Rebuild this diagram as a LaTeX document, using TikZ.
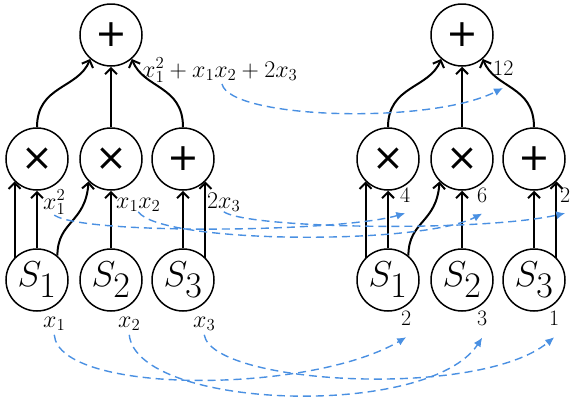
\RequirePackage{fix-cm}
\documentclass[tikz,border=0pt]{standalone}
\usepackage{fontspec}
\newfontfamily\symfont{DejaVu Sans}
\usetikzlibrary{arrows.meta}
\definecolor{flowblue}{RGB}{74,144,226}
\tikzset{
  opnode/.style={circle,draw,line width=1.5pt,minimum size=62pt,inner sep=0pt,
    font=\symfont\fontsize{38}{38}\selectfont},
  varnode/.style={circle,draw,line width=1.5pt,minimum size=62pt,inner sep=0pt,
    font=\fontsize{36}{36}\selectfont},
  edgearrow/.style={line width=2pt,-{Straight Barb[length=6pt,width=12pt]}},
  exprlabel/.style={inner sep=0pt,anchor=base west,font=\fontsize{24}{24}\selectfont},
  vallabel/.style={inner sep=0pt,anchor=base west,font=\fontsize{22}{22}\selectfont},
  flow/.style={draw=flowblue,line width=1.4pt,dash pattern=on 8pt off 5pt,
    -{Latex[length=9pt,width=8pt]}},
}
\begin{document}
\begin{tikzpicture}[x=1pt,y=-1pt]
\useasboundingbox (0,0) rectangle (581,402);
% ---------- left tree ----------
\node[opnode] (lt) at (111,35) {+};
\node[opnode] (la) at (37,159) {×};
\node[opnode] (lb) at (111,159) {×};
\node[opnode] (lc) at (183,159) {+};
\node[varnode] (ls1) at (37,280) {$S_{\textstyle 1}$};
\node[varnode] (ls2) at (111,280) {$S_{\textstyle 2}$};
\node[varnode] (ls3) at (183,280) {$S_{\textstyle 3}$};
\draw[edgearrow] (la.north) .. controls +(0,-42) and +(-12,30) .. (lt.229);
\draw[edgearrow] (lb.north) -- (lt.south);
\draw[edgearrow] (lc.north) .. controls +(0,-42) and +(12,30) .. (lt.311);
\draw[edgearrow] (ls1.135) -- (la.225);
\draw[edgearrow] (ls1.north) -- (la.south);
\draw[edgearrow] (ls1.50) .. controls +(0,-35) and +(-3,42) .. (lb.225);
\draw[edgearrow] (ls2.north) -- (lb.south);
\draw[edgearrow] (ls3.north) -- (lc.south);
\draw[edgearrow] (ls3.45) -- (lc.315);
% ---------- right tree ----------
\node[opnode] (rt) at (462,35) {+};
\node[opnode] (ra) at (388,159) {×};
\node[opnode] (rb) at (462,159) {×};
\node[opnode] (rc) at (534,159) {+};
\node[varnode] (rs1) at (388,280) {$S_{\textstyle 1}$};
\node[varnode] (rs2) at (462,280) {$S_{\textstyle 2}$};
\node[varnode] (rs3) at (534,280) {$S_{\textstyle 3}$};
\draw[edgearrow] (ra.north) .. controls +(0,-42) and +(-12,30) .. (rt.229);
\draw[edgearrow] (rb.north) -- (rt.south);
\draw[edgearrow] (rc.north) .. controls +(0,-42) and +(12,30) .. (rt.311);
\draw[edgearrow] (rs1.135) -- (ra.225);
\draw[edgearrow] (rs1.north) -- (ra.south);
\draw[edgearrow] (rs1.50) .. controls +(0,-35) and +(-3,42) .. (rb.225);
\draw[edgearrow] (rs2.north) -- (rb.south);
\draw[edgearrow] (rs3.north) -- (rc.south);
\draw[edgearrow] (rs3.45) -- (rc.315);
% ---------- labels left ----------
\node[exprlabel] (ex) at (142,77) {$x_1^2+x_1x_2+2x_3$};
\node[exprlabel] (l1) at (43,209) {$x_1^2$};
\node[exprlabel] (l2) at (116,208) {$x_1x_2$};
\node[exprlabel] (l3) at (207,208) {$2x_3$};
\node[exprlabel] (b1) at (43,327) {$x_1$};
\node[exprlabel] (b2) at (118,327) {$x_2$};
\node[exprlabel] (b3) at (193,327) {$x_3$};
% ---------- labels right ----------
\node[vallabel] (r12) at (493,75) {12};
\node[vallabel] (v4) at (400,202) {4};
\node[vallabel] (v6) at (477,202) {6};
\node[vallabel] (v2) at (560,202) {2};
\node[vallabel] (c2) at (401,325) {2};
\node[vallabel] (c3) at (477,325) {3};
\node[vallabel] (c1) at (549,325) {1};
% ---------- dashed flows ----------
\coordinate (e0) at (222,84);
\draw[flow] (e0) .. controls +(8,35) and +(-73,37) .. ([xshift=10pt,yshift=-13pt]r12.base west);
\draw[flow] (l1.south) .. controls +(30,20) and +(-65,19) .. ([yshift=-11pt]v4.south);
\draw[flow] (l2.south) .. controls +(22,32) and +(-62,32) .. ([yshift=-11pt]v6.south);
\draw[flow] (l3.south) .. controls +(25,17) and +(-85,19) .. ([yshift=-11pt]v2.south);
\draw[flow] ([yshift=-4pt]b1.south) .. controls +(5,60) and +(-97,57) .. ([yshift=-12pt]c2.south);
\draw[flow] ([yshift=-4pt]b2.south) .. controls +(8,75) and +(-54,82) .. ([yshift=-12pt]c3.south);
\draw[flow] ([yshift=-4pt]b3.south) .. controls +(8,50) and +(-75,62) .. ([yshift=-12pt]c1.south);
\end{tikzpicture}
\end{document}
